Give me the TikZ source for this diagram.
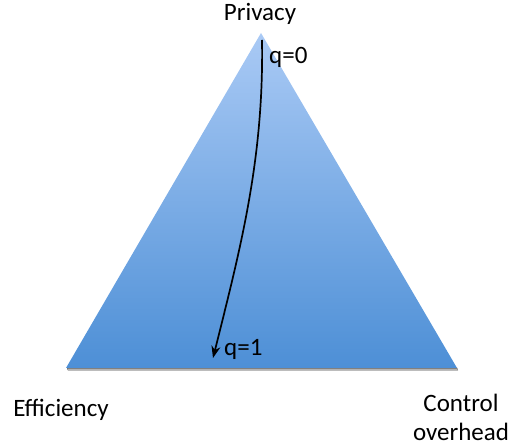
\documentclass[tikz,border=0pt]{standalone}
\usepackage{fontspec}
\setmainfont{Carlito}
\usetikzlibrary{arrows.meta}
\definecolor{topblue}{HTML}{AACAF5}
\definecolor{botblue}{HTML}{4D8FD6}
\definecolor{shade}{HTML}{E4E4E4}
\tikzset{
  lbl/.style={font=\fontsize{25}{29}\selectfont, inner sep=0pt, text=black},
  curvearrow/.style={draw=black, line width=1.7pt, -{Stealth[length=12pt,width=9pt]}}
}
\begin{document}
\begin{tikzpicture}[x=1pt,y=-1pt]
\useasboundingbox (0,0) rectangle (512,446);
\coordinate (apex) at (261,33);
\coordinate (bl) at (66,368);
\coordinate (br) at (457,368);
% shadow
\fill[shade] (67,368) -- (457,368) -- (458,370.5) -- (68,370.5) -- cycle;
\shade[top color=topblue, bottom color=botblue] (apex) -- (br) -- (bl) -- cycle;
\coordinate (qa) at (262,40);
\coordinate (qb) at (213,358);
\draw[curvearrow] (qa) .. controls (264,160) and (240,250) .. (qb);
\node[lbl] (priv) at (260,14) {Privacy};
\node[lbl, anchor=west] (q0) at (269,57) {q=0};
\node[lbl, anchor=west] (q1) at (224,349) {q=1};
\node[lbl] (eff) at (61,410) {Efficiency};
\node[lbl, align=center] (ctrl) at (461,417) {Control\\overhead};
\end{tikzpicture}
\end{document}
